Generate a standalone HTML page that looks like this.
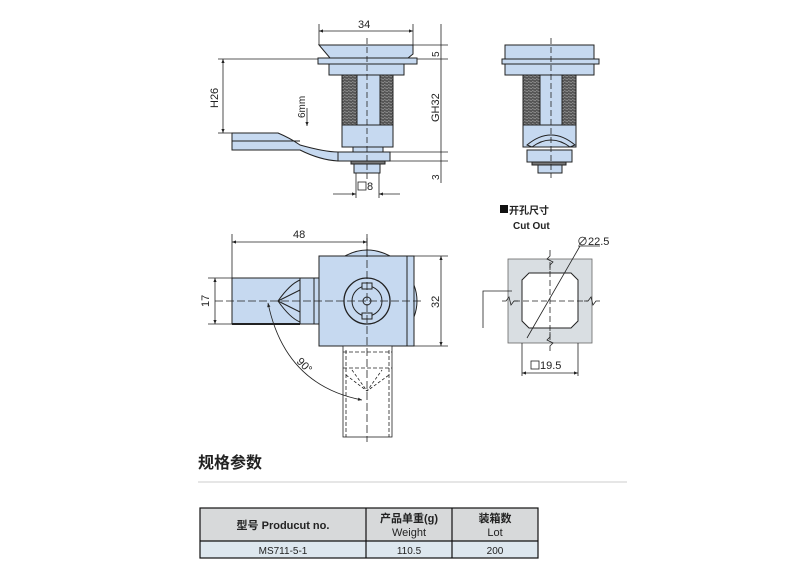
<!DOCTYPE html>
<html><head><meta charset="utf-8"><style>
html,body{margin:0;padding:0;background:#fff;}
svg{display:block;}
text{font-family:"Liberation Sans","Noto Sans CJK SC",sans-serif;fill:#222;}
</style></head><body>
<svg width="790" height="578" viewBox="0 0 790 578" xmlns="http://www.w3.org/2000/svg">
<defs>
<marker id="a" viewBox="0 0 10 10" refX="10" refY="5" markerWidth="7" markerHeight="5" orient="auto-start-reverse"><path d="M0,1 L10,5 L0,9 z" fill="#222"/></marker>
<pattern id="thr" width="4" height="3" patternUnits="userSpaceOnUse"><rect width="4" height="3" fill="#555"/><path d="M0,0.5 L4,1.8" stroke="#999" stroke-width="0.8"/></pattern>
</defs>
<g stroke="#222" stroke-width="1" fill="#c6d9f0">
<!-- TOP LEFT VIEW -->
<path d="M319,45 L413,45 L413,54 L408,58 L330,58 Z"/>
<rect x="318" y="58" width="99" height="6"/>
<rect x="329" y="64" width="75" height="11"/>
<rect x="342" y="75" width="51" height="50" fill="url(#thr)"/>
<rect x="357" y="75" width="23" height="50"/>
<rect x="342" y="125" width="51" height="22"/>
<rect x="353" y="147" width="30" height="5"/>
<rect x="338" y="152" width="52" height="9"/>
<rect x="351" y="161" width="34" height="3" fill="#777"/>
<rect x="354" y="164" width="26" height="9"/>
<path d="M232,133 L278,133 Q290,138 300,145 Q325,152 338,152 L338,161 Q320,160 300,150 L232,150 Z"/>
<line x1="232" y1="141" x2="300" y2="141"/>
</g>
<g stroke="#222" stroke-width="0.8" fill="none">
<line x1="367" y1="38" x2="367" y2="182" stroke-dasharray="6,3"/>
<line x1="319" y1="24" x2="319" y2="45"/><line x1="413" y1="24" x2="413" y2="45"/>
<line x1="319" y1="31" x2="413" y2="31" marker-start="url(#a)" marker-end="url(#a)"/>
<line x1="218" y1="59" x2="318" y2="59"/><line x1="218" y1="133" x2="232" y2="133"/>
<line x1="223" y1="59" x2="223" y2="133" marker-start="url(#a)" marker-end="url(#a)"/>
<line x1="307" y1="108" x2="307" y2="126" marker-end="url(#a)"/>
<line x1="413" y1="45" x2="448" y2="45"/><line x1="417" y1="59" x2="448" y2="59"/>
<line x1="390" y1="152" x2="448" y2="152"/><line x1="390" y1="161" x2="448" y2="161"/>
<line x1="441" y1="24" x2="441" y2="183"/>
<line x1="356" y1="173" x2="356" y2="198"/><line x1="379" y1="173" x2="379" y2="198"/>
<line x1="333" y1="194" x2="356" y2="194" marker-end="url(#a)"/><line x1="400" y1="194" x2="379" y2="194" marker-end="url(#a)"/>
</g>
<text x="358" y="28" font-size="11">34</text>
<text transform="translate(218,108) rotate(-90)" font-size="11">H26</text>
<text transform="translate(305,118) rotate(-90)" font-size="10">6mm</text>
<text transform="translate(439,57) rotate(-90)" font-size="10">5</text>
<text transform="translate(439,122) rotate(-90)" font-size="11">GH32</text>
<text transform="translate(439,180) rotate(-90)" font-size="10">3</text>
<rect x="358" y="182" width="8" height="8" fill="none" stroke="#222" stroke-width="0.8"/>
<text x="367" y="190" font-size="11">8</text>

<!-- TOP RIGHT VIEW -->
<g stroke="#222" stroke-width="1" fill="#c6d9f0">
<rect x="505" y="45" width="89" height="14"/>
<rect x="502" y="59" width="97" height="5"/>
<rect x="505" y="64" width="89" height="11"/>
<rect x="523" y="75" width="53" height="50" fill="url(#thr)"/>
<rect x="540" y="75" width="22" height="50"/>
<rect x="523" y="125" width="53" height="22"/>
<path d="M527,145 Q551,125 575,145 L570,147 Q551,133 532,147 Z"/>
<rect x="527" y="150" width="45" height="12"/>
<rect x="532" y="162" width="34" height="3" fill="#777"/>
<rect x="538" y="165" width="24" height="8"/>
</g>
<line x1="551" y1="38" x2="551" y2="178" stroke="#222" stroke-width="0.8" stroke-dasharray="6,3"/>

<!-- BOTTOM LEFT VIEW -->
<g stroke="#222" stroke-width="1" fill="#c6d9f0">
<path d="M345,256 Q367,244 390,256 Z"/>
<path d="M345,346 Q367,358 390,346 Z"/>
<path d="M414,285 Q420,301 414,317 Z"/>
<rect x="319" y="256" width="88" height="90"/>
<rect x="407" y="256" width="7" height="90"/>
<rect x="232" y="278" width="87" height="46"/>
<line x1="300" y1="278" x2="300" y2="324"/>
<path d="M300,280 Q290,284 278,301 Q290,318 300,322" fill="none"/>
<line x1="278" y1="301" x2="300" y2="290"/><line x1="278" y1="301" x2="300" y2="312"/>
<rect x="314" y="278" width="5" height="46"/>
<line x1="232" y1="324" x2="300" y2="324" stroke-width="2"/>
<circle cx="367" cy="301" r="23" fill="none" stroke-width="1.3"/>
<circle cx="367" cy="301" r="15" fill="none"/>
<rect x="362" y="283" width="10" height="6" fill="#c6d9f0"/>
<rect x="362" y="313" width="10" height="6" fill="#c6d9f0"/>
<circle cx="367" cy="301" r="4" fill="none"/>
</g>
<g stroke="#222" stroke-width="0.8" fill="none">
<rect x="343" y="346" width="49" height="91" fill="#fff"/>
<line x1="346" y1="350" x2="346" y2="437" stroke-dasharray="4,2"/><line x1="389" y1="350" x2="389" y2="437" stroke-dasharray="4,2"/>
<line x1="343" y1="352" x2="392" y2="352" stroke-dasharray="4,2"/>
<line x1="343" y1="368" x2="392" y2="368" stroke-dasharray="4,2"/>
<path d="M346,375 L367,391 L389,375 M352,370 L367,391 L382,370" stroke-dasharray="3,2"/>
<line x1="215" y1="301" x2="422" y2="301" stroke-dasharray="8,3"/>
<line x1="367" y1="238" x2="367" y2="442" stroke-dasharray="8,3"/>
<line x1="232" y1="234" x2="232" y2="278"/><line x1="367" y1="234" x2="367" y2="256"/>
<line x1="232" y1="242" x2="367" y2="242" marker-start="url(#a)" marker-end="url(#a)"/>
<line x1="208" y1="278" x2="232" y2="278"/><line x1="208" y1="324" x2="232" y2="324"/>
<line x1="215" y1="278" x2="215" y2="324" marker-start="url(#a)" marker-end="url(#a)"/>
<line x1="414" y1="256" x2="448" y2="256"/><line x1="414" y1="346" x2="448" y2="346"/>
<line x1="441" y1="256" x2="441" y2="346" marker-start="url(#a)" marker-end="url(#a)"/>
<path d="M268,303 Q285,385 362,400" marker-start="url(#a)" marker-end="url(#a)"/>
</g>
<text x="293" y="238" font-size="11">48</text>
<text transform="translate(209,307) rotate(-90)" font-size="11">17</text>
<text transform="translate(439,308) rotate(-90)" font-size="11">32</text>
<text transform="translate(296,362) rotate(45)" font-size="11">90°</text>

<!-- CUT OUT -->
<rect x="500" y="205" width="8" height="8" fill="#111"/>
<text x="509" y="214" font-size="10" font-weight="bold">开孔尺寸</text>
<text x="513" y="229" font-size="10" font-weight="bold">Cut Out</text>
<rect x="508" y="259" width="84" height="84" fill="#d9dee2" stroke="#666" stroke-width="0.8"/>
<path d="M529,273 L571,273 L578,280 L578,321 L571,328 L529,328 L522,321 L522,280 Z" fill="#fff" stroke="#222" stroke-width="1"/>
<g stroke="#222" stroke-width="0.8" fill="none">
<path d="M550,250 L550,256 L547,259 L553,262 L550,265 L550,270"/>
<path d="M550,332 L550,337 L547,340 L553,343 L550,346 L550,351"/>
<path d="M502,301 L506,301 L509,297 L511,305 L514,301 L518,301"/>
<path d="M584,301 L588,301 L591,297 L593,305 L596,301 L600,301"/>
<line x1="514" y1="301" x2="588" y2="301" stroke-dasharray="6,3"/>
<line x1="550" y1="262" x2="550" y2="340" stroke-dasharray="6,3"/>
<line x1="527" y1="338" x2="580" y2="246"/>
<line x1="578" y1="246" x2="600" y2="246"/>
<path d="M483,328 L483,291 L512,291"/>
<line x1="522" y1="343" x2="522" y2="376"/><line x1="578" y1="343" x2="578" y2="376"/>
<line x1="522" y1="373" x2="578" y2="373" marker-start="url(#a)" marker-end="url(#a)"/>
</g>
<text x="577" y="245" font-size="11">∅22.5</text>
<rect x="531" y="361" width="8" height="8" fill="none" stroke="#222" stroke-width="0.8"/>
<text x="540" y="369" font-size="11">19.5</text>

<!-- SPEC TABLE -->
<text x="198" y="468" font-size="16" font-weight="bold">规格参数</text>
<line x1="198" y1="482" x2="627" y2="482" stroke="#ccc" stroke-width="1"/>
<rect x="200" y="508" width="338" height="33" fill="#d7d9da"/>
<rect x="200" y="541" width="338" height="17" fill="#dde7ee"/>
<g stroke="#111" stroke-width="1.2" fill="none">
<rect x="200" y="508" width="338" height="50"/>
<line x1="200" y1="541" x2="538" y2="541"/>
<line x1="366" y1="508" x2="366" y2="558"/>
<line x1="452" y1="508" x2="452" y2="558"/>
</g>
<text x="283" y="529" font-size="11" text-anchor="middle" font-weight="bold">型号 Producut no.</text>
<text x="409" y="522" font-size="11" text-anchor="middle" font-weight="bold">产品单重(g)</text>
<text x="409" y="536" font-size="11" text-anchor="middle">Weight</text>
<text x="495" y="522" font-size="11" text-anchor="middle" font-weight="bold">装箱数</text>
<text x="495" y="536" font-size="11" text-anchor="middle">Lot</text>
<text x="283" y="554" font-size="10" text-anchor="middle">MS711-5-1</text>
<text x="409" y="554" font-size="10" text-anchor="middle">110.5</text>
<text x="495" y="554" font-size="10" text-anchor="middle">200</text>
</svg>
</body></html>
